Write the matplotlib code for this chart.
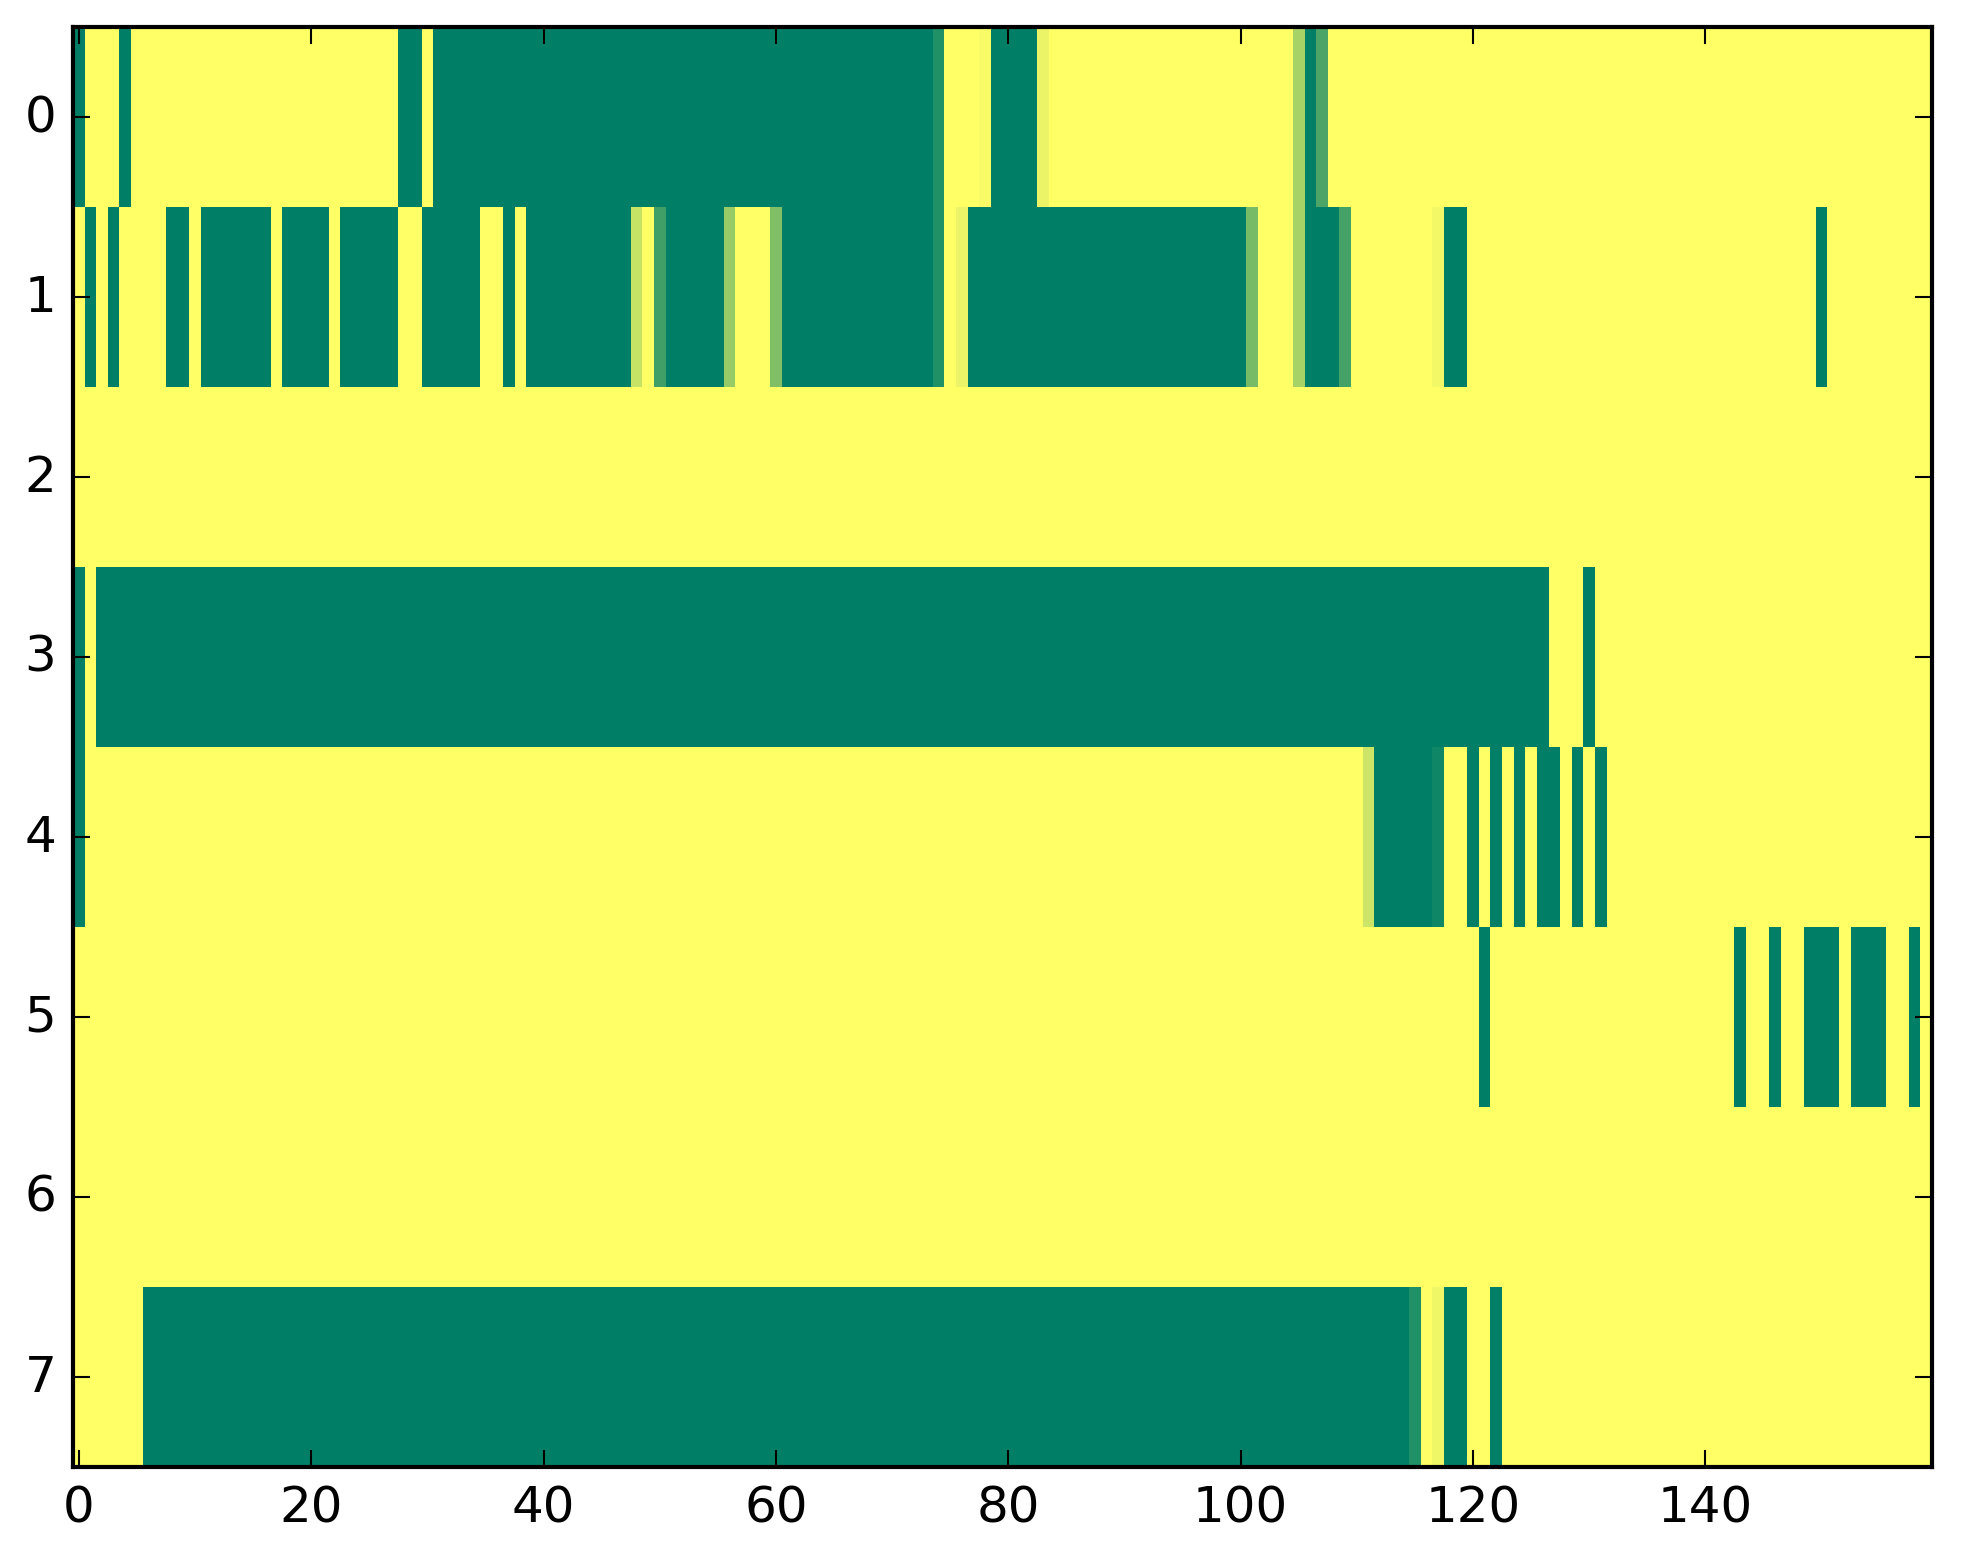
import numpy as np
import matplotlib
matplotlib.use("Agg")
import matplotlib.pyplot as plt

plt.style.use("classic")
plt.rcParams["font.family"] = ["DejaVu Sans"]
plt.rcParams["font.size"] = 12

n_cols = 160

# Each row given as runs of (value, length)
row0 = [(0, 1), (1, 3), (0, 1), (1, 23), (0, 2), (1, 1), (0, 43), (0.13, 1),
        (1, 3), (0.97, 1), (0, 4), (0.92, 1), (1, 21), (0.65, 1), (0, 1),
        (0.3, 1), (1, 52)]
row1 = [(1, 1), (0, 1), (1, 1), (0, 1), (1, 4), (0, 2), (1, 1), (0, 6), (1, 1),
        (0, 4), (1, 1), (0, 5), (1, 2), (0, 5), (1, 2), (0, 1), (1, 1), (0, 9),
        (0.78, 1), (1, 1), (0.25, 1), (0, 5), (0.59, 1), (1, 3), (0.5, 1),
        (0, 13), (0.13, 1), (1, 1), (0.92, 1), (0, 24), (0.47, 1), (1, 3),
        (0.65, 1), (0, 3), (0.27, 1), (1, 7), (0.95, 1), (0, 2), (1, 30),
        (0, 1), (1, 9)]
row2 = [(1, 160)]
row3 = [(0, 1), (1, 1), (0, 125), (1, 3), (0, 1), (1, 29)]
row4 = [(0, 1), (1, 110), (0.8, 1), (0, 5), (0.06, 1), (1, 2), (0, 1), (1, 1),
        (0, 1), (1, 1), (0, 1), (1, 1), (0, 2), (1, 1), (0, 1), (1, 1), (0, 1),
        (1, 28)]
row5 = [(1, 121), (0, 1), (1, 21), (0, 1), (1, 2), (0, 1), (1, 2), (0, 3),
        (1, 1), (0, 3), (1, 2), (0, 1), (1, 1)]
row6 = [(1, 160)]
row7 = [(1, 6), (0, 109), (0.13, 1), (1, 1), (0.94, 1), (0, 2), (1, 2), (0, 1),
        (1, 37)]

rows = [row0, row1, row2, row3, row4, row5, row6, row7]

x_ticks = [0, 20, 40, 60, 80, 100, 120, 140]
y_ticks = [0, 1, 2, 3, 4, 5, 6, 7]


def expand(runs):
    vals = [v for v, _ in runs]
    lens = [n for _, n in runs]
    out = np.repeat(vals, lens).astype(float)
    assert len(out) == n_cols, len(out)
    return out


matrix = np.vstack([expand(r) for r in rows])

fig = plt.figure(figsize=(1963 / 300, 1564 / 300), dpi=300)
fig.patch.set_facecolor("white")
ax = fig.add_axes([73 / 1963, 1 - 1468 / 1564, 1859 / 1963, 1440 / 1564])
ax.imshow(matrix, cmap="summer", aspect="auto", interpolation="nearest",
          vmin=0, vmax=1)
ax.set_xlim(-0.5, n_cols - 0.5)
ax.set_ylim(len(rows) - 0.5, -0.5)
ax.set_xticks(x_ticks)
ax.set_yticks(y_ticks)

fig.savefig("out.png", dpi=300, facecolor="white")
